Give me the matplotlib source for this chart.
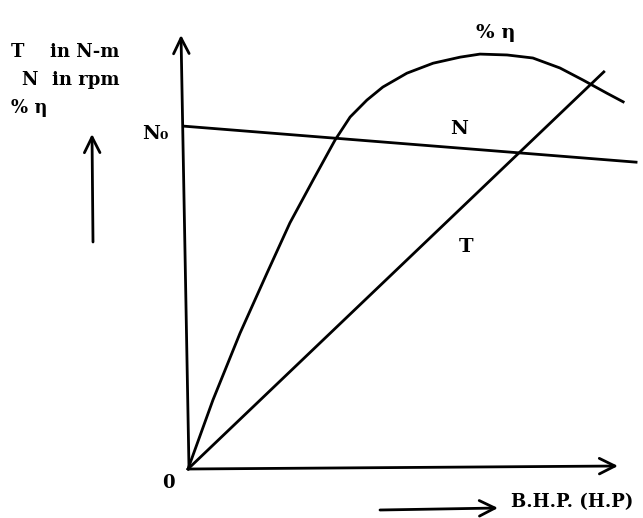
"""
Kennlinien eines Motors: Drehmoment T, Drehzahl N und Wirkungsgrad
ueber der Leistung B.H.P. (Schema-Skizze).
"""

import numpy as np
import matplotlib
matplotlib.use("Agg")
from matplotlib import pyplot as plt

bhp_speed = [-1.0, 104.2]
speed = [79.0, 70.7]

bhp_torque = [0.0, 96.7]
torque = [0.0, 91.5]

bhp_eff = [0.0, 5.8, 12.1, 18.4, 23.7, 29.1, 34.2, 37.7, 41.6, 45.3, 50.9,
           57.0, 63.3, 67.9, 74.2, 80.2, 86.5, 91.9, 97.4, 101.2]
eff = [0.0, 15.9, 31.3, 45.2, 56.7, 66.6, 75.8, 81.1, 85.0, 88.0, 91.2,
       93.5, 94.9, 95.6, 95.4, 94.7, 92.4, 89.6, 86.6, 84.6]

# Pixel-Geometrie der Skizze
W, H = 643, 518
OX, OY = 188, 469
SX = (618 - OX) / 100
SY = (OY - 35) / 100

FONT = dict(family=["DejaVu Serif", "DejaVu Sans"], fontweight="bold",
            color="black")
LW = 2.0


def px(x, y):
    """Rechnet Bildpixel in Datenkoordinaten um."""
    return (x - OX) / SX, (OY - y) / SY


def pfeil(ax, start, ende, lw=LW):
    ax.annotate("", xy=px(*ende), xytext=px(*start),
                arrowprops=dict(arrowstyle="->", lw=lw, color="black",
                                mutation_scale=28, shrinkA=0, shrinkB=0))


def text(ax, x, y, s, size=13, ha="left"):
    ax.text(*px(x, y), s, fontsize=size, ha=ha, va="baseline", **FONT)


def main():
    fig = plt.figure(figsize=(W / 100, H / 100), dpi=100)
    ax = fig.add_axes([0, 0, 1, 1])
    ax.set_xlim(-OX / SX, (W - OX) / SX)
    ax.set_ylim(-(H - OY) / SY, OY / SY)
    ax.axis("off")

    # Achsen
    pfeil(ax, (189, 469), (181, 35))
    pfeil(ax, (189, 469), (618, 466))

    # Kennlinien
    ax.plot(bhp_speed, speed, color="black", lw=LW)
    ax.plot(bhp_torque, torque, color="black", lw=LW)
    ax.plot(bhp_eff, eff, color="black", lw=LW, solid_joinstyle="round")

    # Beschriftung der Kurven
    text(ax, 476, 38, "% η", 14)
    text(ax, 450, 134, "N", 14)
    text(ax, 459, 252, "T", 14)
    text(ax, 142, 139, "N₀", 14)
    text(ax, 168, 488, "0", 13, ha="center")

    # Legende links
    text(ax, 11, 57, "T")
    text(ax, 50, 57, "in N-m")
    text(ax, 21, 85, "N")
    text(ax, 52, 85, "in rpm")
    text(ax, 11, 113, "% η")
    pfeil(ax, (93, 242), (92, 134))

    # x-Beschriftung
    pfeil(ax, (380, 510), (498, 508))
    text(ax, 511, 507, "B.H.P. (H.P)")

    fig.savefig("out.png", dpi=100, facecolor="white")


if __name__ == "__main__":
    main()
